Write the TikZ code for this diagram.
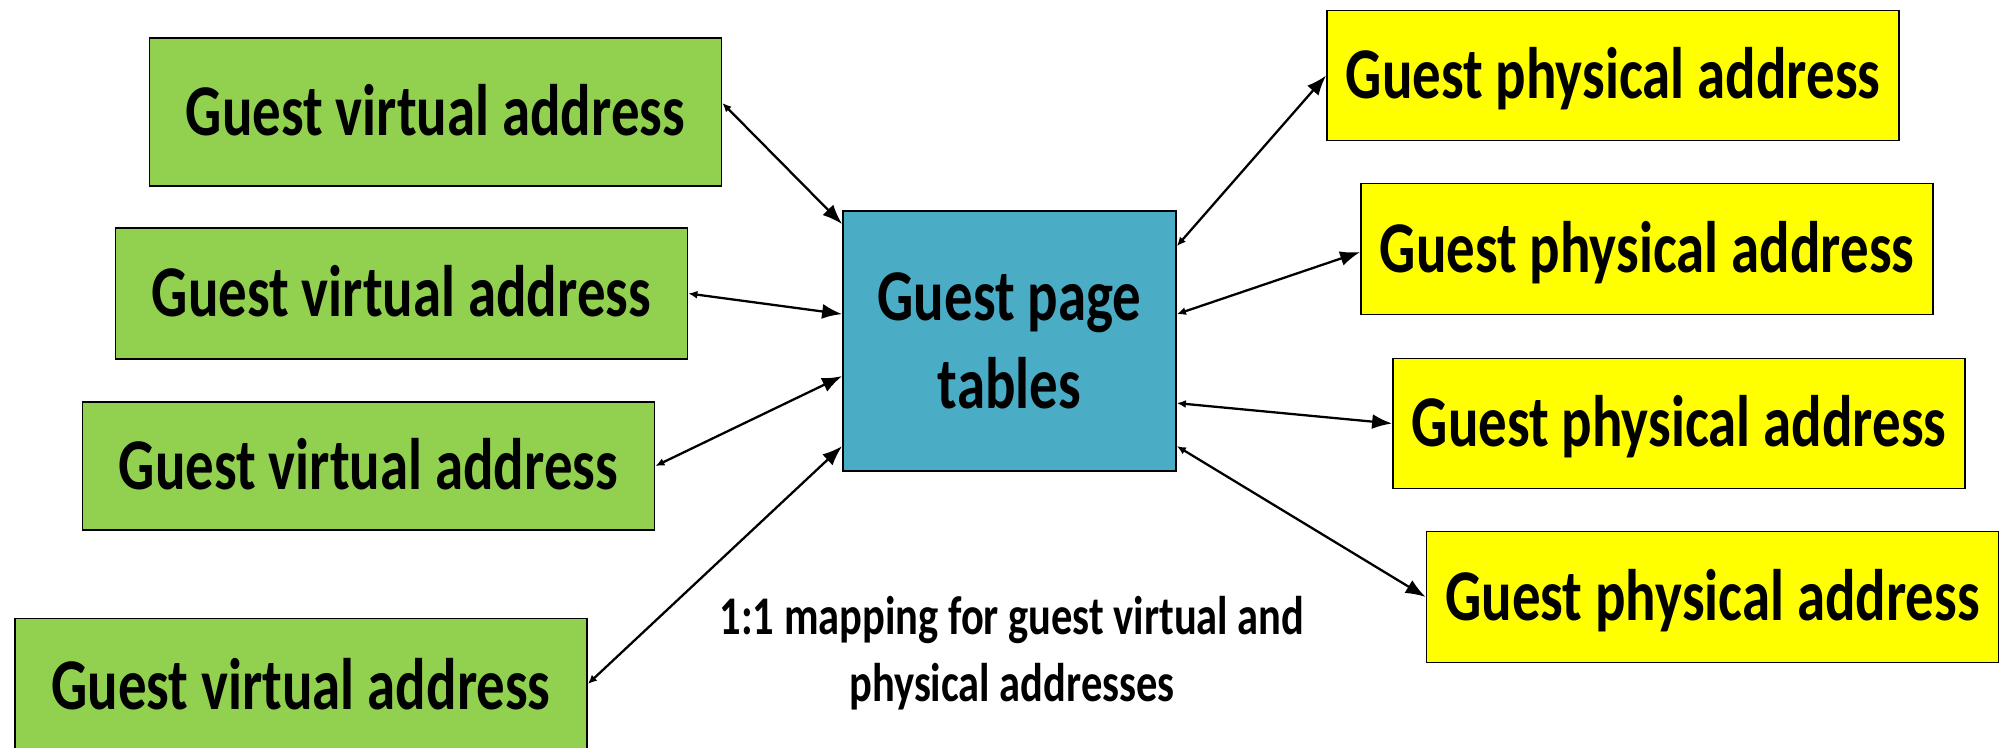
\documentclass[tikz,border=0pt]{standalone}
\usepackage{fontspec}
\setmainfont{Carlito}[FakeStretch=0.78]
\usetikzlibrary{arrows.meta}

\definecolor{gvgreen}{HTML}{92D050}
\definecolor{ptblue}{HTML}{4BACC6}
\definecolor{gpyellow}{HTML}{FFFF00}

\begin{document}
\begin{tikzpicture}[
    addr/.style={draw, rectangle, line width=1pt, inner sep=0pt, minimum width=11.44cm,
      minimum height=2.62cm, font=\fontsize{41.5}{50}\selectfont\bfseries,
      text height=26.7pt, text depth=0pt},
    virt/.style={addr, fill=gvgreen},
    phys/.style={addr, fill=gpyellow},
    link/.style={line width=1.3pt, {Latex[length=0.18cm,width=0.16cm]}-{Latex[length=0.4cm,width=0.3cm]}}
  ]
    \useasboundingbox (0,0) rectangle (40.18,-14.96);

    \node[draw, rectangle, line width=1pt, fill=ptblue, minimum width=6.66cm, minimum height=5.2cm,
      align=center, font=\fontsize{41.5}{50}\selectfont\bfseries] (t) at (20.19,-6.82) {Guest page\\tables};

    \node[virt, minimum height=2.96cm] (v1) at (8.71,-2.24) {Guest virtual address};
    \node[virt] (v2) at (8.03,-5.87) {Guest virtual address};
    \node[virt, minimum height=2.56cm] (v3) at (7.37,-9.32) {Guest virtual address};
    \node[virt, minimum height=2.7cm] (v4) at (6.02,-13.72) {Guest virtual address};

    \node[phys, minimum height=2.6cm] (p1) at (32.26,-1.51) {Guest physical address};
    \node[phys] (p2) at (32.94,-4.98) {Guest physical address};
    \node[phys, minimum height=2.6cm] (p3) at (33.58,-8.47) {Guest physical address};
    \node[phys] (p4) at (34.25,-11.94) {Guest physical address};

    \node[align=center, font=\fontsize{31}{38}\selectfont\bfseries] (note) at (20.24,-13.06)
      {1:1 mapping for guest virtual and\\physical addresses};

    \draw[link] ([yshift=0.18cm]v1.east) -- ([yshift=-0.28cm]t.north west);
    \draw[link] (v2.east) -- ([yshift=-2.08cm]t.north west);
    \draw[link] (v3.east) -- ([yshift=-3.32cm]t.north west);
    \draw[link] ([yshift=0.04cm]v4.east) -- ([yshift=-4.72cm]t.north west);

    \draw[link] ([yshift=-0.72cm]t.north east) -- (p1.west);
    \draw[link] ([yshift=-2.08cm]t.north east) -- ([yshift=-0.06cm]p2.west);
    \draw[link] ([yshift=-3.86cm]t.north east) -- (p3.west);
    \draw[link] ([yshift=-4.72cm]t.north east) -- (p4.west);
  \end{tikzpicture}
\end{document}
